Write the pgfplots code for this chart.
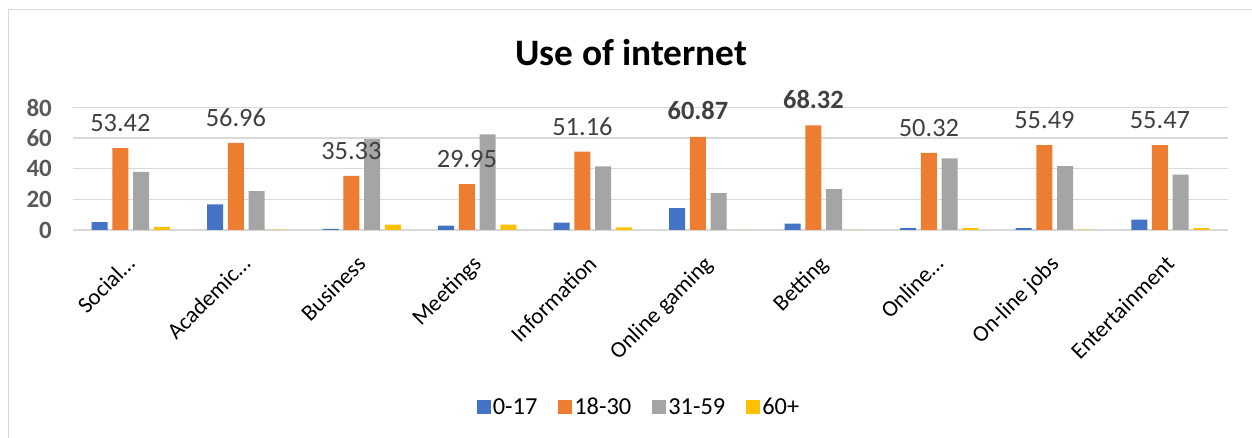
\documentclass[border=0pt]{standalone}
\usepackage{pgfplots}
\pgfplotsset{compat=1.18}
\usepackage{fontspec}
\setmainfont{Carlito}
\definecolor{cblue}{HTML}{4472C4}
\definecolor{corange}{HTML}{ED7D31}
\definecolor{cgray}{HTML}{A5A5A5}
\definecolor{cyellow}{HTML}{FFC000}
\definecolor{gridc}{HTML}{D9D9D9}
\definecolor{tickc}{HTML}{595959}
\definecolor{labc}{HTML}{404040}
\begin{document}
\begin{tikzpicture}[x=1bp,y=1bp]
\useasboundingbox (0,0) rectangle (1252,438);
\draw[gridc, line width=1.5bp] (8.5,-20) rectangle (1280,428.7);
\node[font=\fontsize{37.5}{42}\selectfont\bfseries] at (631.5,385) {Use of internet};
\begin{axis}[
  at={(73bp,208bp)}, anchor=south west,
  scale only axis, width=1155bp, height=122.5bp,
  xmin=-0.5, xmax=9.5, ymin=0, ymax=80,
  clip=false,
  ybar=4.7bp, bar width=16bp,
  axis line style={draw=none},
  major tick length=0pt,
  ymajorgrids, grid style={gridc, line width=1.3bp},
  ytick={0,20,40,60,80},
  /pgf/number format/assume math mode=true,
  yticklabel style={font=\fontsize{25}{28}\selectfont\bfseries, text=tickc, inner sep=0pt, xshift=-21bp},
  xtick={0,1,2,3,4,5,6,7,8,9},
  xticklabels={Social\dots,Academic\dots,Business,Meetings,Information,Online gaming,Betting,Online\dots,On-line jobs,Entertainment},
  xticklabel style={font=\fontsize{23}{26}\selectfont, text=black, inner sep=0pt, yshift=-24bp, xshift=-6bp, rotate=45, anchor=north east},
  legend style={at={(0.49,-1.445)}, anchor=center, legend columns=-1, draw=none,
    font=\fontsize{24.5}{27}\selectfont, inner sep=0pt,
    /tikz/every even column/.append style={column sep=19bp}},
  legend image code/.code={\fill[#1] (0bp,-7bp) rectangle (14bp,7bp);},
]
\addplot[fill=cblue, draw=none] coordinates {(0,5.2) (1,16.7) (2,0.7) (3,2.8) (4,4.8) (5,14.3) (6,4.1) (7,1.3) (8,1.3) (9,6.7)};
\addplot[fill=corange, draw=none,
  nodes near coords, point meta=explicit symbolic,
  every node near coord/.append style={anchor=center, yshift=25bp, font=\fontsize{26.5}{29}\selectfont, text=labc}]
  coordinates {(0,53.42) [53.42] (1,56.96) [56.96] (2,35.33) [35.33] (3,29.95) [29.95] (4,51.16) [51.16]
               (5,60.87) [\raisebox{2bp}{\bfseries 60.87}] (6,68.32) [\raisebox{2bp}{\bfseries 68.32}]
               (7,50.32) [50.32] (8,55.49) [55.49] (9,55.47) [55.47]};
\addplot[fill=cgray, draw=none] coordinates {(0,38.0) (1,25.4) (2,59.3) (3,62.4) (4,41.5) (5,24.1) (6,26.7) (7,46.7) (8,41.7) (9,36.1)};
\addplot[fill=cyellow, draw=none] coordinates {(0,2.0) (1,0.3) (2,3.5) (3,3.5) (4,1.7) (5,0) (6,0) (7,1.3) (8,0.3) (9,1.3)};
\legend{0-17,18-30,31-59,60+}
\end{axis}
\end{tikzpicture}
\end{document}
